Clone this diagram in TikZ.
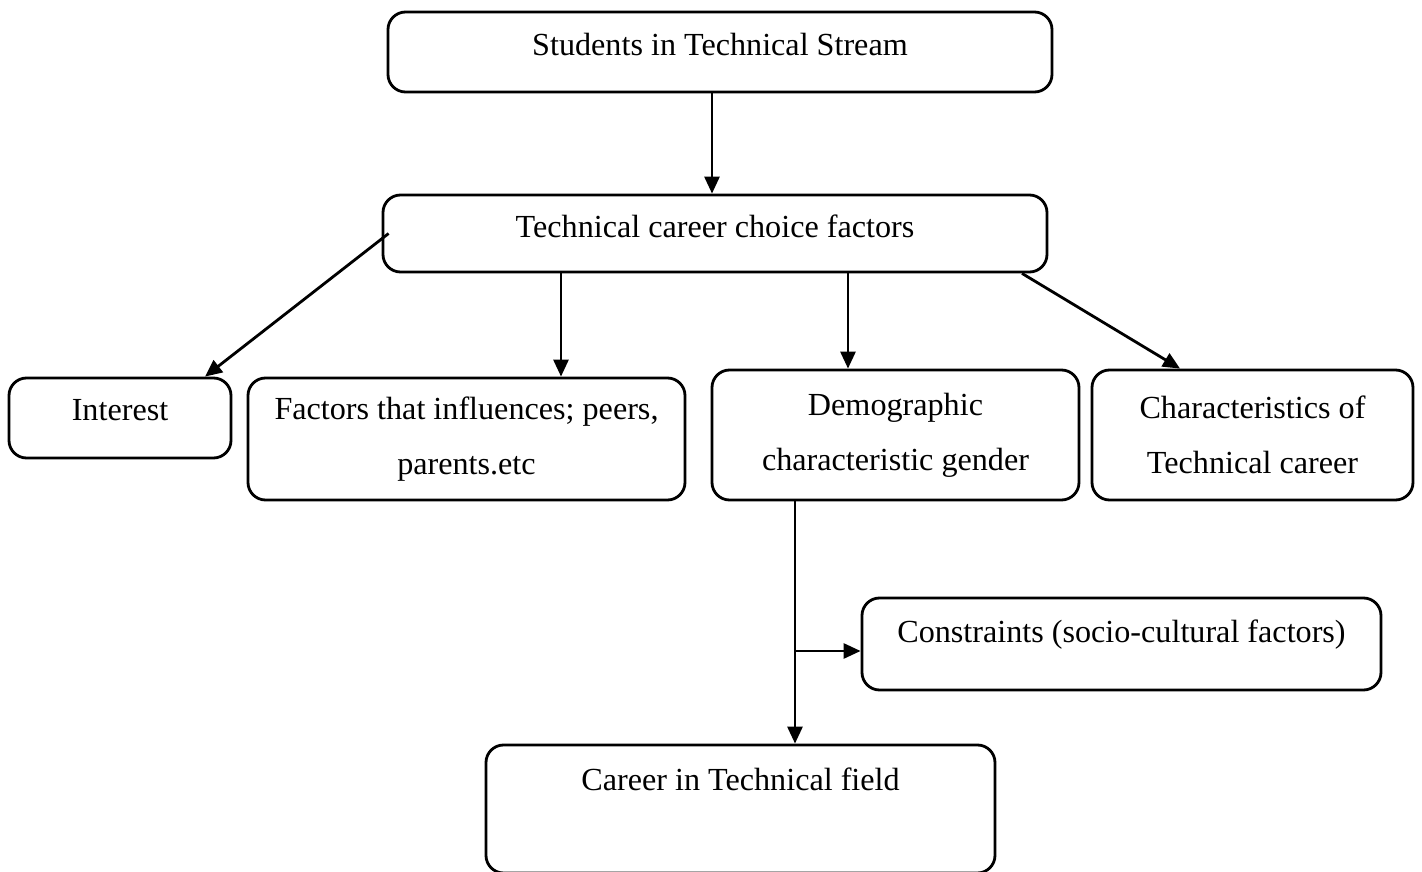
\documentclass[tikz,border=0pt]{standalone}
\usepackage{fontspec}
\setmainfont{Liberation Serif}
\usetikzlibrary{arrows.meta}

\begin{document}
\begin{tikzpicture}[
    font=\fontsize{9.15}{15.6}\selectfont,
    box/.style={draw, thick, rounded corners=5pt, align=center, inner sep=0pt},
    oneline/.style={text height=0.25cm, text depth=#1},
    arr/.style={-{Triangle[width=0.15cm, length=0.17cm]}, thick}
]
\useasboundingbox (0,0) rectangle (14.22,-8.72);

    % students and choice factors
    \node[box, minimum width=6.64cm, minimum height=0.80cm, oneline=0.18cm] (stud) at (7.20,-0.52) {Students in Technical Stream};
    \node[box, minimum width=6.64cm, minimum height=0.77cm, oneline=0.17cm] (choice) at (7.15,-2.335) {Technical career choice factors};

    % the four factors
    \node[box, minimum width=2.22cm, minimum height=0.80cm, oneline=0.20cm] (intr) at (1.20,-4.18) {Interest};
    \node[box, minimum width=4.37cm, minimum height=1.22cm] (infl) at (4.665,-4.39) {Factors that influences; peers,\\ parents.etc};
    \node[box, minimum width=3.67cm, minimum height=1.30cm] (demo) at (8.955,-4.35) {Demographic\\ characteristic gender};
    \node[box, minimum width=3.21cm, minimum height=1.30cm] (chrs) at (12.525,-4.35) {Characteristics of\\ Technical career};

    % constraints and outcome
    \node[box, minimum width=5.19cm, minimum height=0.92cm, oneline=0.28cm] (cons) at (11.215,-6.44) {Constraints (socio-cultural factors)};
    \node[box, minimum width=5.09cm, minimum height=1.28cm, oneline=0.62cm] (carr) at (7.405,-8.09) {Career in Technical field};

    % arrows
    \draw[arr] (7.12,0 |- stud.south) -- (7.12,0 |- choice.north);
    \draw[arr] ([xshift=0.07cm]choice.west) -- ([xshift=0.85cm]intr.north);
    \draw[arr] (5.61,0 |- choice.south) -- (5.61,0 |- infl.north);
    \draw[arr] (8.48,0 |- choice.south) -- (8.48,0 |- demo.north);
    \draw[arr] (10.22,0 |- choice.south) -- ([xshift=-0.725cm]chrs.north);
    \draw[arr] (7.95,0 |- demo.south) -- (7.95,0 |- carr.north);
    \coordinate (split) at (7.95,-6.51);
    \draw[arr] (split) -- (split -| cons.west);

\end{tikzpicture}
\end{document}
